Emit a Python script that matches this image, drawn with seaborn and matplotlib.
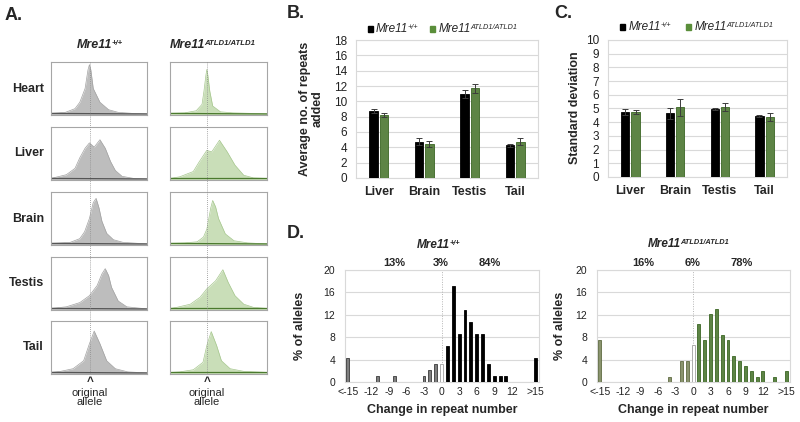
import numpy as np
import pandas as pd
import matplotlib
matplotlib.use("Agg")
import matplotlib.pyplot as plt
import seaborn as sns
from matplotlib.patches import Rectangle

# ---------------- data ----------------
tissues_a = ["Heart", "Liver", "Brain", "Testis", "Tail"]

HEART_WT_X = [0, 0.15, 0.25, 0.30, 0.355, 0.385, 0.40, 0.415, 0.44, 0.51, 0.6, 0.7, 0.85, 1.0]
HEART_WT_Y = [0.03, 0.05, 0.12, 0.24, 0.50, 0.85, 0.95, 0.85, 0.50, 0.24, 0.10, 0.05, 0.03, 0.02]
HEART_MUT_X = [0, 0.15, 0.27, 0.33, 0.35, 0.37, 0.38, 0.39, 0.41, 0.44, 0.52, 0.65, 0.85, 1.0]
HEART_MUT_Y = [0.03, 0.04, 0.08, 0.20, 0.45, 0.75, 0.86, 0.75, 0.45, 0.17, 0.06, 0.04, 0.03, 0.02]

LIVER_WT_X = [0, 0.16, 0.25, 0.30, 0.355, 0.40, 0.45, 0.51, 0.565, 0.62, 0.67, 0.74, 0.86, 1.0]
LIVER_WT_Y = [0.03, 0.10, 0.22, 0.42, 0.60, 0.70, 0.62, 0.76, 0.60, 0.35, 0.18, 0.07, 0.03, 0.02]
LIVER_MUT_X = [0, 0.10, 0.24, 0.30, 0.38, 0.43, 0.51, 0.59, 0.67, 0.76, 0.86, 1.0]
LIVER_MUT_Y = [0.03, 0.06, 0.16, 0.34, 0.56, 0.53, 0.75, 0.53, 0.28, 0.09, 0.04, 0.03]

BRAIN_WT_X = [0, 0.2, 0.3, 0.35, 0.40, 0.44, 0.47, 0.50, 0.53, 0.58, 0.65, 0.75, 1.0]
BRAIN_WT_Y = [0.03, 0.05, 0.12, 0.25, 0.50, 0.80, 0.88, 0.70, 0.45, 0.22, 0.10, 0.05, 0.02]
BRAIN_MUT_X = [0, 0.15, 0.28, 0.345, 0.38, 0.42, 0.44, 0.47, 0.50, 0.57, 0.66, 0.8, 1.0]
BRAIN_MUT_Y = [0.03, 0.04, 0.06, 0.15, 0.30, 0.70, 0.84, 0.72, 0.50, 0.21, 0.08, 0.04, 0.02]

TESTIS_WT_X = [0, 0.16, 0.30, 0.40, 0.48, 0.53, 0.565, 0.60, 0.63, 0.70, 0.79, 1.0]
TESTIS_WT_Y = [0.03, 0.06, 0.14, 0.27, 0.46, 0.68, 0.78, 0.65, 0.43, 0.17, 0.06, 0.02]
TESTIS_MUT_X = [0, 0.07, 0.21, 0.31, 0.38, 0.47, 0.545, 0.60, 0.67, 0.76, 0.86, 1.0]
TESTIS_MUT_Y = [0.03, 0.05, 0.11, 0.24, 0.40, 0.55, 0.76, 0.52, 0.27, 0.11, 0.05, 0.03]

TAIL_WT_X = [0, 0.1, 0.23, 0.34, 0.40, 0.45, 0.51, 0.58, 0.67, 0.8, 1.0]
TAIL_WT_Y = [0.03, 0.05, 0.10, 0.25, 0.57, 0.81, 0.57, 0.25, 0.10, 0.04, 0.02]
TAIL_MUT_X = [0, 0.1, 0.24, 0.34, 0.38, 0.425, 0.48, 0.53, 0.62, 0.76, 1.0]
TAIL_MUT_Y = [0.03, 0.04, 0.08, 0.22, 0.54, 0.80, 0.54, 0.25, 0.10, 0.05, 0.03]

tissues = ["Liver", "Brain", "Testis", "Tail"]
avg_wt = [8.75, 4.75, 11.0, 4.25]
avg_wt_err = [0.3, 0.5, 0.5, 0.2]
avg_mut = [8.2, 4.45, 11.7, 4.75]
avg_mut_err = [0.3, 0.35, 0.6, 0.45]

sd_wt = [4.73, 4.65, 4.95, 4.42]
sd_wt_err = [0.22, 0.4, 0.07, 0.07]
sd_mut = [4.75, 5.08, 5.1, 4.38]
sd_mut_err = [0.13, 0.63, 0.31, 0.3]

d_wt_pos = [-16, -11, -8, -3, -2, -1, 0, 1, 2, 3, 4, 5, 6, 7, 8, 9, 10, 11, 16]
d_wt_val = [4.3, 1.1, 1.1, 1.1, 2.2, 3.2, 3.2, 6.5, 17.2, 8.6, 12.9, 10.8, 8.6, 8.6, 3.2, 1.1, 1.1, 1.1, 4.3]
d_mut_pos = [-16, -4, -2, -1, 0, 1, 2, 3, 4, 5, 6, 7, 8, 9, 10, 11, 12, 14, 16]
d_mut_val = [7.5, 0.95, 3.75, 3.75, 6.55, 10.3, 7.5, 12.15, 13.1, 8.4, 7.5, 4.7, 3.75, 2.8, 1.9, 0.95, 1.9, 0.95, 1.9]
d_tick_pos = [-16, -12, -9, -6, -3, 0, 3, 6, 9, 12, 16]
d_tick_lab = ["<-15", "-12", "-9", "-6", "-3", "0", "3", "6", "9", "12", ">15"]
d_wt_pct = ["13%", "3%", "84%"]
d_mut_pct = ["16%", "6%", "78%"]

# ---------------- style ----------------
sns.set_style("white")
plt.rcParams["font.family"] = ["Liberation Sans", "DejaVu Sans"]

GREEN = "#5a8e3a"
GREEN_EDGE = "#3b6624"
OLIVE = "#8d9a68"
OLIVE_EDGE = "#5f6b42"
GRID = "#d9d9d9"

W, H = 800, 422
fig = plt.figure(figsize=(8, 4.22), dpi=100)


def add_ax(x0, y0, x1, y1, **kw):
    return fig.add_axes([x0 / W, 1 - y1 / H, (x1 - x0) / W, (y1 - y0) / H], **kw)


ov = add_ax(0, 0, W, H, zorder=10)
ov.set_xlim(0, W)
ov.set_ylim(H, 0)
ov.axis("off")
ov.patch.set_alpha(0)


def sup_label(x, y, main, sup, size, weight="normal", style="italic"):
    t = ov.text(x, y, main, fontsize=size, fontweight=weight, fontstyle=style,
                ha="left", va="center")
    ov.annotate(sup, xy=(1.0, 0.88), xycoords=t, xytext=(-0.6, 0), textcoords="offset points",
                fontsize=size * 0.62, fontweight=weight, fontstyle=style, ha="left", va="top")
    return t


# panel letters
for lab, x, y in [("A.", 5, 16), ("B.", 287, 14), ("C.", 554, 14), ("D.", 287, 233)]:
    ov.text(x, y, lab, fontsize=13, fontweight="bold", ha="left", va="center")

# ---------------- panel A ----------------
traces_wt = [(HEART_WT_X, HEART_WT_Y), (LIVER_WT_X, LIVER_WT_Y), (BRAIN_WT_X, BRAIN_WT_Y),
             (TESTIS_WT_X, TESTIS_WT_Y), (TAIL_WT_X, TAIL_WT_Y)]
traces_mut = [(HEART_MUT_X, HEART_MUT_Y), (LIVER_MUT_X, LIVER_MUT_Y), (BRAIN_MUT_X, BRAIN_MUT_Y),
              (TESTIS_MUT_X, TESTIS_MUT_Y), (TAIL_MUT_X, TAIL_MUT_Y)]
row_tops = [62, 127, 192, 257, 321]
row_h = 53
cols = [(51, 147, traces_wt, "#bdbdbd", "#a2a2a2", "#555555", 0.403),
        (170, 267, traces_mut, "#c9deb8", "#a6c78e", "#4b7a2e", 0.38)]
for (cx0, cx1, traces, fcol, lcol, bcol, allele) in cols:
    for (tx, ty), top in zip(traces, row_tops):
        ax = add_ax(cx0, top, cx1, top + row_h)
        ax.fill_between(tx, 0, ty, color=fcol, lw=0)
        sns.lineplot(x=tx, y=ty, ax=ax, color=lcol, lw=0.5, sort=False)
        sns.lineplot(x=[tx[0], tx[-1]], y=[ty[0], ty[-1]], ax=ax, color=bcol, lw=0.9)
        ax.set_xlim(0, 1)
        ax.set_ylim(0, 1)
        ax.set_xticks([])
        ax.set_yticks([])
        for s in ax.spines.values():
            s.set_color("#a6a6a6")
            s.set_linewidth(0.8)
    xa = cx0 + allele * (cx1 - cx0)
    ov.plot([xa, xa], [62, 373], ls=(0, (1, 1.5)), color="#8c8c8c", lw=0.6)
    ov.text(xa, 384.5, "^", fontsize=8.5, fontweight="bold", ha="center", va="baseline")
    ov.text(xa, 387.5, "original\nallele", fontsize=8, ha="center", va="top", linespacing=0.92)

for lab, top in zip(tissues_a, row_tops):
    ov.text(44, top + row_h / 2, lab, fontsize=9, fontweight="bold", ha="right", va="center")

sup_label(77, 45, "Mre11", "+/+", 9, weight="bold")
sup_label(170, 45, "Mre11", "ATLD1/ATLD1", 9, weight="bold")


# ---------------- panels B & C ----------------
def bar_panel(ax, wt, wt_err, mut, mut_err, ymax, ystep):
    df = pd.DataFrame({"tissue": tissues * 2,
                       "genotype": ["wt"] * len(tissues) + ["mut"] * len(tissues),
                       "value": wt + mut})
    sns.barplot(data=df, x="tissue", y="value", hue="genotype", hue_order=["wt", "mut"],
                palette={"wt": "black", "mut": GREEN}, width=0.46, gap=0.19,
                errorbar=None, legend=False, ax=ax, linewidth=0.6, zorder=3)
    for cont, errs, ec in zip(ax.containers, [wt_err, mut_err], ["black", GREEN_EDGE]):
        xs, hs = [], []
        for p in cont:
            p.set_edgecolor(ec)
            xs.append(p.get_x() + p.get_width() / 2)
            hs.append(p.get_height())
        ax.errorbar(xs, hs, yerr=errs, fmt="none", ecolor="#3c3c3c", elinewidth=0.7,
                    capsize=2.2, capthick=0.7, zorder=4)
    ax.set_ylim(0, ymax)
    ax.set_yticks(np.arange(0, ymax + 0.01, ystep))
    ax.set_xlim(-0.5, len(tissues) - 0.5)
    ax.yaxis.grid(True, color=GRID, lw=0.8)
    ax.set_axisbelow(True)
    for s in ax.spines.values():
        s.set_color(GRID)
        s.set_linewidth(0.8)
    ax.set_xlabel("")
    ax.set_ylabel("")
    ax.tick_params(axis="y", length=0, pad=6.5, labelsize=8.5, labelcolor="#222222")
    ax.tick_params(axis="x", length=0, pad=6, labelsize=9)
    for t in ax.get_xticklabels():
        t.set_fontweight("bold")


axB = add_ax(356, 40, 538, 178)
bar_panel(axB, avg_wt, avg_wt_err, avg_mut, avg_mut_err, 18, 2)
axC = add_ax(608, 40, 787, 177)
bar_panel(axC, sd_wt, sd_wt_err, sd_mut, sd_mut_err, 10, 1)

ov.text(311, 109, "Average no. of repeats\nadded", fontsize=9, fontweight="bold", rotation=90,
        ha="center", va="center", linespacing=1.05)
ov.text(575, 108, "Standard deviation", fontsize=9, fontweight="bold", rotation=90,
        ha="center", va="center")

for (sx, tx, gx, gtx, y) in [(367.5, 376, 430, 438.5, 29), (620, 629, 686, 695, 27)]:
    ov.add_patch(Rectangle((sx, y - 2.7), 5.4, 5.4, color="black"))
    ov.add_patch(Rectangle((gx, y - 2.7), 5.4, 5.4, color=GREEN))
    sup_label(tx, y, "Mre11", "+/+", 8.5)
    sup_label(gtx, y, "Mre11", "ATLD1/ATLD1", 8.5)


# ---------------- panel D ----------------
def hist_panel(ax, pos, val, neg_col, neg_edge, pos_col, pos_edge):
    cls = ["neg" if p < 0 else ("zero" if p == 0 else "pos") for p in pos]
    sns.barplot(x=pos, y=val, hue=cls, hue_order=["neg", "zero", "pos"],
                palette={"neg": neg_col, "zero": "white", "pos": pos_col},
                native_scale=True, dodge=False, width=0.5, errorbar=None, legend=False,
                ax=ax, linewidth=0.6, zorder=3)
    for p in ax.patches:
        xc = p.get_x() + p.get_width() / 2
        if xc < -0.5:
            p.set_edgecolor(neg_edge)
        elif xc < 0.5:
            p.set_edgecolor("#a0a0a0")
        else:
            p.set_edgecolor(pos_edge)
    ax.axvline(0, ls=(0, (1, 1.5)), color="#b5b5b5", lw=0.7, zorder=1)
    ax.set_xlim(-16.5, 16.65)
    ax.set_ylim(0, 20)
    ax.set_yticks([0, 4, 8, 12, 16, 20])
    ax.set_xticks(d_tick_pos)
    ax.set_xticklabels(d_tick_lab)
    ax.yaxis.grid(True, color=GRID, lw=0.8)
    ax.set_axisbelow(True)
    for s in ax.spines.values():
        s.set_color(GRID)
        s.set_linewidth(0.8)
    ax.set_xlabel("")
    ax.set_ylabel("")
    ax.tick_params(axis="y", length=0, pad=7, labelsize=7.5, labelcolor="#222222")
    ax.tick_params(axis="x", length=0, pad=3.5, labelsize=7.5, labelcolor="#222222")


axD1 = add_ax(345, 270, 539, 382)
hist_panel(axD1, d_wt_pos, d_wt_val, "#7f7f7f", "#3a3a3a", "black", "black")
axD2 = add_ax(597, 270, 790, 382)
hist_panel(axD2, d_mut_pos, d_mut_val, OLIVE, OLIVE_EDGE, GREEN, GREEN_EDGE)

sup_label(417, 245, "Mre11", "+/+", 8.5, weight="bold")
sup_label(648, 244, "Mre11", "ATLD1/ATLD1", 8.5, weight="bold")
for lab, x in zip(d_wt_pct, [394, 441, 490]):
    ov.text(x, 263, lab, fontsize=8, fontweight="bold", ha="center", va="center")
for lab, x in zip(d_mut_pct, [643, 693, 742]):
    ov.text(x, 263, lab, fontsize=8, fontweight="bold", ha="center", va="center")
for x in [300, 560]:
    ov.text(x, 326, "% of alleles", fontsize=9, fontweight="bold", rotation=90,
            ha="center", va="center")
for x in [442, 693]:
    ov.text(x, 410, "Change in repeat number", fontsize=9, fontweight="bold",
            ha="center", va="center")

fig.savefig("out.png", dpi=100, facecolor="white")
